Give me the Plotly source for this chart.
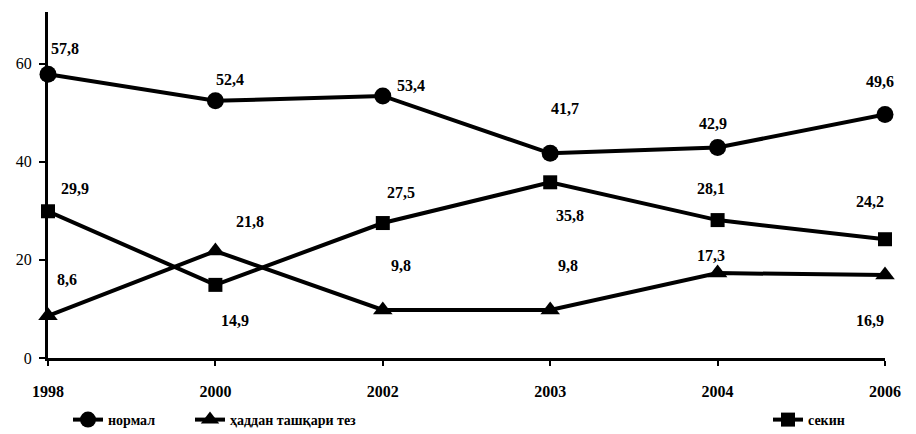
import plotly.graph_objects as go

years = ["1998", "2000", "2002", "2003", "2004", "2006"]
normal = [57.8, 52.4, 53.4, 41.7, 42.9, 49.6]
fast = [8.6, 21.8, 9.8, 9.8, 17.3, 16.9]
slow = [29.9, 14.9, 27.5, 35.8, 28.1, 24.2]
names = ["нормал", "ҳаддан ташқари тез", "секин"]

# label offsets (pixels) for each series' data labels
off_normal = [(17, 26), (15, 21), (28, 10), (15, 45), (-5, 24), (-5, 33)]
off_fast = [(19, 36), (35, 30), (18, 44), (18, 44), (-7, 18), (-15, -45)]
off_slow = [(27, 23), (20, -36), (18, 31), (20, -33), (-7, 32), (-15, 38)]

FONT = "Liberation Serif"
fig = go.Figure()
series = [
    (normal, names[0], "circle", 17, None, off_normal),
    (fast, names[1], "triangle-up", 17, "legend2", off_fast),
    (slow, names[2], "square", 14, "legend3", off_slow),
]
annotations = []
for vals, nm, sym, sz, lg, offs in series:
    kw = {} if lg is None else {"legend": lg}
    fig.add_trace(go.Scatter(
        x=years, y=vals, name=f"<b>{nm}</b>", mode="lines+markers",
        line=dict(color="black", width=4),
        marker=dict(symbol=sym, size=sz, color="black"),
        cliponaxis=False, **kw,
    ))
    for i, (yv, (dx, dy)) in enumerate(zip(vals, offs)):
        annotations.append(dict(
            x=i, y=yv, xref="x", yref="y",
            text="<b>" + str(yv).replace(".", ",") + "</b>",
            showarrow=False, xshift=dx, yshift=dy,
            font=dict(family=FONT, size=16, color="black"),
        ))

plot_h = 434 - 12 - 76
leg_y = -(420 - (434 - 76)) / plot_h
leg_common = dict(orientation="h", yanchor="middle", y=leg_y,
                  bgcolor="rgba(0,0,0,0)",
                  font=dict(family=FONT, size=14, color="black"))
fig.update_layout(
    width=916, height=434,
    margin=dict(l=48, r=31, t=12, b=76, autoexpand=False),
    paper_bgcolor="white", plot_bgcolor="white",
    font=dict(family=FONT, color="black"),
    annotations=annotations,
    showlegend=True,
    legend=dict(**leg_common, x=20 / 837, xanchor="left"),
    legend2=dict(**leg_common, x=142 / 837, xanchor="left"),
    legend3=dict(**leg_common, x=720 / 837, xanchor="left"),
    xaxis=dict(
        type="category", range=[0, 5], showgrid=False, zeroline=False,
        showline=True, linecolor="black", linewidth=3,
        ticks="outside", ticklen=5, tickwidth=2, tickcolor="black",
        tickfont=dict(family=FONT, size=16, color="black"),
        ticklabelstandoff=12,
    ),
    yaxis=dict(
        range=[0, 70.5], tickvals=[0, 20, 40, 60], showgrid=False, zeroline=False,
        showline=True, linecolor="black", linewidth=3,
        ticks="outside", ticklen=6, tickwidth=2, tickcolor="black",
        tickfont=dict(family=FONT, size=16, color="black"),
        ticklabelstandoff=4,
    ),
)
fig.update_xaxes(tickprefix="<b>", ticksuffix="</b>")
fig.update_yaxes(tickprefix="<b>", ticksuffix="</b>")
fig.write_html("out.html", config={"displayModeBar": False},
               post_script="document.body.style.margin='0px';")
